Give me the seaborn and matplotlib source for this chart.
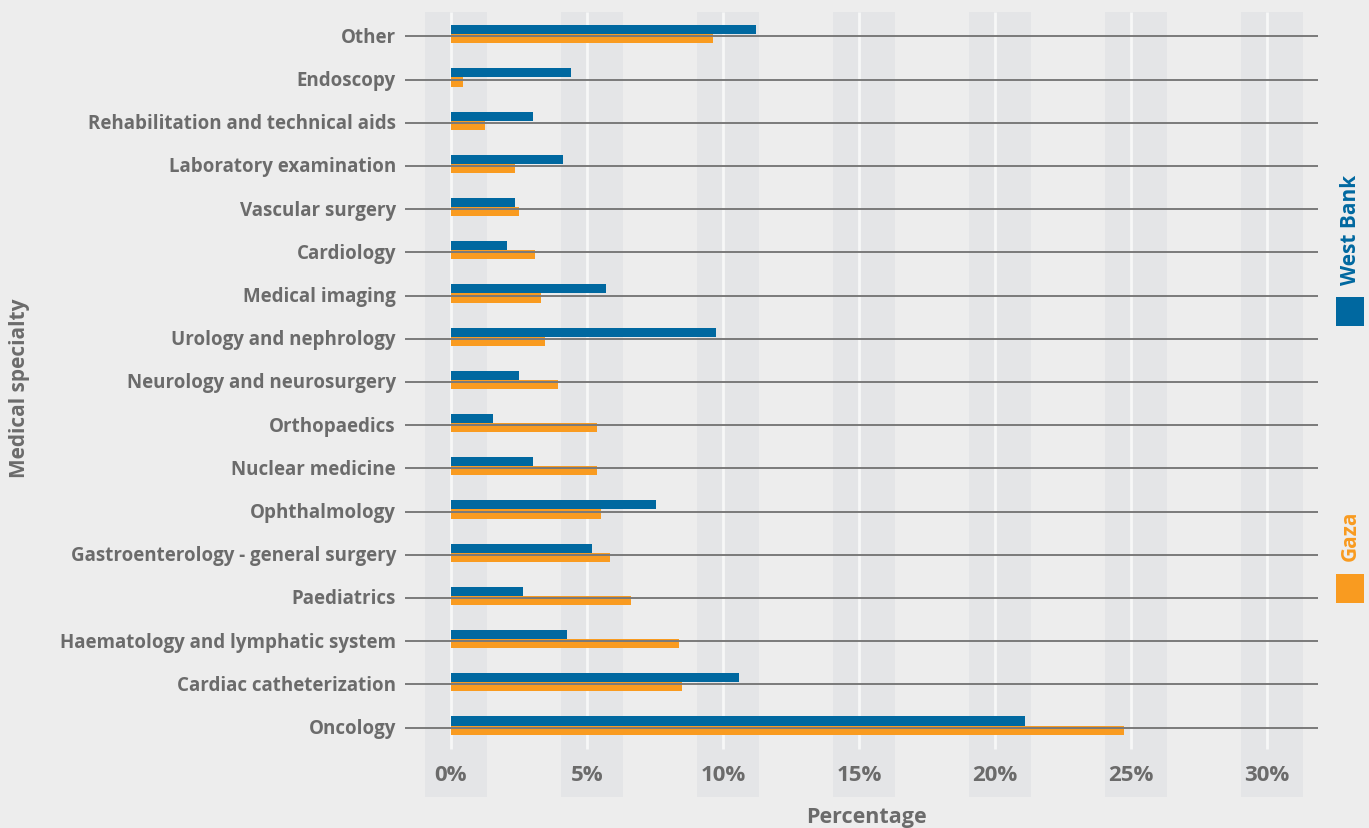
import matplotlib
matplotlib.use("Agg")
import matplotlib.pyplot as plt
import seaborn as sns
import pandas as pd
from matplotlib.patches import Rectangle

categories = [
    "Other", "Endoscopy", "Rehabilitation and technical aids", "Laboratory examination",
    "Vascular surgery", "Cardiology", "Medical imaging", "Urology and nephrology",
    "Neurology and neurosurgery", "Orthopaedics", "Nuclear medicine", "Ophthalmology",
    "Gastroenterology - general surgery", "Paediatrics", "Haematology and lymphatic system",
    "Cardiac catheterization", "Oncology",
]
west_bank = [11.2, 4.4, 3.0, 4.1, 2.35, 2.05, 5.7, 9.75, 2.5, 1.55, 3.0, 7.55, 5.2, 2.65, 4.25, 10.6, 21.1]
gaza = [9.65, 0.45, 1.25, 2.35, 2.5, 3.1, 3.3, 3.45, 3.95, 5.35, 5.35, 5.5, 5.85, 6.6, 8.4, 8.5, 24.75]
series = ["West Bank", "Gaza"]
xticks = [0, 5, 10, 15, 20, 25, 30]
xtick_labels = ["0%", "5%", "10%", "15%", "20%", "25%", "30%"]

BLUE = "#0068a0"
ORANGE = "#f99b20"
BG = "#ededed"
BAND = "#e4e5e7"
TXT = "#6b6b6b"

df = pd.DataFrame({
    "Medical specialty": categories * 2,
    "Percentage": west_bank + gaza,
    "Region": [series[0]] * len(categories) + [series[1]] * len(categories),
})

sns.set_theme(style="white")
plt.rcParams["font.family"] = ["Open Sans", "DejaVu Sans"]
plt.rcParams["font.weight"] = "bold"

fig = plt.figure(figsize=(13.69, 8.29), dpi=100)
fig.patch.set_facecolor(BG)
W, H = 1369, 829
ax = fig.add_axes([405 / W, 1 - 798 / H, 913 / W, 785 / H])
ax.set_facecolor(BG)

sns.barplot(data=df, y="Medical specialty", x="Percentage", hue="Region",
            hue_order=series, order=categories, palette=[BLUE, ORANGE],
            saturation=1, orient="h", width=0.42, gap=0, legend=False, ax=ax,
            edgecolor="none", linewidth=0, zorder=3)

ax.set_xlim(-1.691, 31.875)
ax.set_ylim(17.655, -0.516)

# vertical bands around tick labels
for t in xticks:
    ax.axvspan(t - 0.95, t + 1.33, color=BAND, zorder=0, lw=0)
# white tick lines
ax.vlines(xticks, -0.516, 16.54, color="#f7f7f7", lw=2.0, zorder=1)
# horizontal category lines
ax.hlines([i + 0.05 for i in range(len(categories))], -1.691, 31.875,
          color="#7a7a7a", lw=1.4, zorder=4)

ax.set_xticks(xticks)
ax.set_xticklabels(xtick_labels)
ax.tick_params(axis="x", length=0, pad=-24, labelsize=16, labelcolor=TXT)
ax.tick_params(axis="y", length=0, pad=6.5, labelsize=13.5, labelcolor=TXT)
for lab in ax.get_xticklabels() + ax.get_yticklabels():
    lab.set_fontweight("bold")
ax.set_xlabel("")
ax.set_ylabel("")
for s in ax.spines.values():
    s.set_visible(False)
ax.grid(False)

fig.text(866 / W, 1 - 818 / H, "Percentage", ha="center", va="center",
         fontsize=15.5, fontweight="bold", color=TXT)
fig.text(20 / W, 1 - 388 / H, "Medical specialty", ha="center", va="center",
         rotation=90, fontsize=15, fontweight="bold", color=TXT)

# legend
fig.text(1350 / W, 1 - 230 / H, "West Bank", ha="center", va="center", rotation=90,
         fontsize=15, fontweight="bold", color=BLUE)
fig.patches.append(Rectangle((1336 / W, 1 - 327 / H), 28 / W, 29 / H,
                             transform=fig.transFigure, facecolor=BLUE, edgecolor="none"))
fig.text(1350 / W, 1 - 536 / H, "Gaza", ha="center", va="center", rotation=90,
         fontsize=15, fontweight="bold", color=ORANGE)
fig.patches.append(Rectangle((1336 / W, 1 - 604 / H), 28 / W, 29 / H,
                             transform=fig.transFigure, facecolor=ORANGE, edgecolor="none"))

fig.savefig("out.png", dpi=100, facecolor=BG)
